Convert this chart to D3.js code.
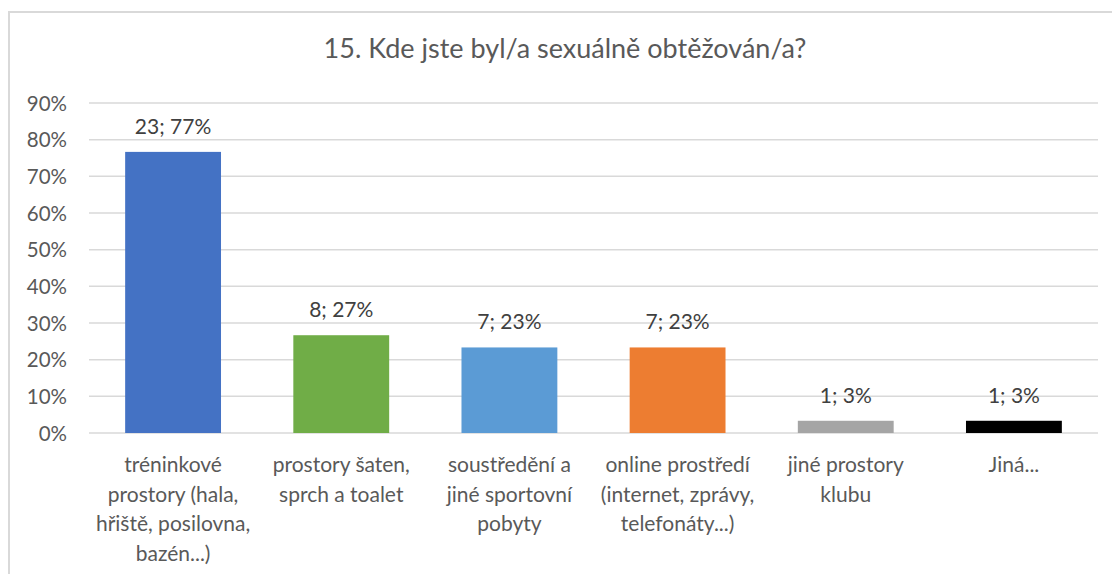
<!DOCTYPE html>
<html>
<head>
<meta charset="utf-8">
<script src="https://cdn.jsdelivr.net/npm/d3@7/dist/d3.min.js"></script>
<style>
  body { margin: 0; background: #fff; }
  svg text { font-family: Lato, "Open Sans", sans-serif; }
</style>
</head>
<body>
<div id="chart"></div>
<script>
var title = "15. Kde jste byl/a sexuálně obtěžován/a?";
var categories = [
    "tréninkové\nprostory (hala,\nhřiště, posilovna,\nbazén...)",
    "prostory šaten,\nsprch a toalet",
    "soustředění a\njiné sportovní\npobyty",
    "online prostředí\n(internet, zprávy,\ntelefonáty...)",
    "jiné prostory\nklubu",
    "Jiná..."
];
var counts = [23, 8, 7, 7, 1, 1];
var total = 30;
var colors = ["#4472C4", "#70AD47", "#5B9BD5", "#ED7D31", "#A5A5A5", "#000000"];
var yTicks = [0, 0.1, 0.2, 0.3, 0.4, 0.5, 0.6, 0.7, 0.8, 0.9];

var W = 1112, H = 574;
var margins = {top: 103, right: 15, bottom: 141, left: 89};

var svg = d3.select("#chart").append("svg")
    .attr("width", W)
    .attr("height", H);

// chart frame
svg.append("rect")
    .attr("x", 9).attr("y", 12)
    .attr("width", W + 20).attr("height", H + 20)
    .style("fill", "none")
    .style("stroke", "#d9d9d9")
    .style("stroke-width", 2);

svg.append("text")
    .attr("x", 565).attr("y", 58)
    .attr("text-anchor", "middle")
    .style("font-size", "27px")
    .style("fill", "#595959")
    .text(title);

var x = d3.scaleBand()
    .domain(categories)
    .range([margins.left, W - margins.right + 1])
    .paddingInner(0.43)
    .paddingOuter(0.215);

var y = d3.scaleLinear()
    .domain([0, 0.9])
    .range([H - margins.bottom, margins.top]);

// gridlines
svg.append("g")
    .selectAll("line")
    .data(yTicks)
    .enter()
    .append("line")
    .attr("x1", margins.left)
    .attr("x2", W - margins.right + 1)
    .attr("y1", function(d) { return y(d); })
    .attr("y2", function(d) { return y(d); })
    .style("stroke", "#d9d9d9")
    .style("stroke-width", 1.5);

var yAxis = svg.append("g")
    .attr("transform", "translate(" + (margins.left - 22) + ",0)")
    .call(d3.axisLeft(y).tickValues(yTicks).tickFormat(d3.format(".0%")).tickSize(0).tickPadding(0));
yAxis.select(".domain").remove();
yAxis.selectAll("text")
    .style("font-size", "20.5px")
    .style("fill", "#595959")
    .attr("dy", "0.35em");

svg.append("g")
    .selectAll("rect")
    .data(counts)
    .enter()
    .append("rect")
    .attr("x", function(d, i) { return x(categories[i]); })
    .attr("y", function(d) { return y(d / total); })
    .attr("width", x.bandwidth())
    .attr("height", function(d) { return y(0) - y(d / total); })
    .style("fill", function(d, i) { return colors[i]; });

svg.append("g")
    .selectAll("text")
    .data(counts)
    .enter()
    .append("text")
    .attr("x", function(d, i) { return x(categories[i]) + x.bandwidth() / 2; })
    .attr("y", function(d) { return y(d / total) - 18; })
    .attr("text-anchor", "middle")
    .style("font-size", "21px")
    .style("fill", "#404040")
    .text(function(d) { return d + "; " + Math.round(d / total * 100) + "%"; });

var xAxis = svg.append("g")
    .attr("transform", "translate(0," + y(0) + ")")
    .call(d3.axisBottom(x).tickSize(0).tickFormat(""));
xAxis.select(".domain").remove();

xAxis.selectAll(".tick").each(function(d) {
    var t = d3.select(this).append("text")
        .attr("text-anchor", "middle")
        .attr("y", 39)
        .style("font-size", "21px")
        .style("fill", "#595959");
    d.split("\n").forEach(function(line, k) {
        t.append("tspan")
            .attr("x", 0)
            .attr("dy", k === 0 ? 0 : 29.5)
            .text(line);
    });
});
</script>
</body>
</html>
